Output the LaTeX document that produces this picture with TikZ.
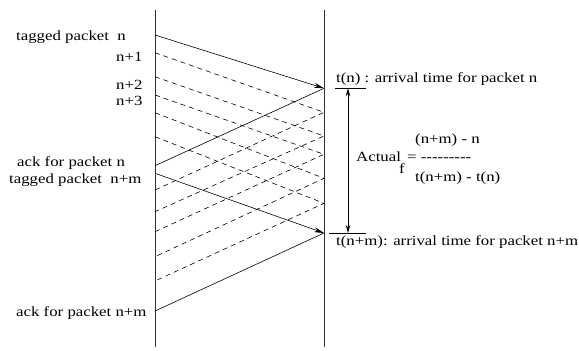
\documentclass[tikz,border=0pt]{standalone}
\usepackage{fontspec}
\setmainfont[FakeStretch=1.2]{Liberation Serif}
\usetikzlibrary{arrows.meta}
\begin{document}
\begin{tikzpicture}[x=1pt,y=-1pt,
  lifeline/.style={line width=0.8pt,black!80},
  msg/.style={line width=0.6pt},
  msgarrow/.style={msg,-{Stealth[length=10pt,width=5pt]}},
  dashmsg/.style={line width=0.6pt,dash pattern=on 5pt off 4pt},
  lbl/.style={anchor=base west,inner sep=0pt,font=\fontsize{14}{16}\selectfont},
  tickline/.style={line width=0.6pt},
  spanarrow/.style={line width=0.8pt,{Stealth[length=8pt,width=4.5pt]}-{Stealth[length=8pt,width=4.5pt]}}]
\useasboundingbox (0,0) rectangle (579,351);
% lifelines
\coordinate (LT) at (155,10); \coordinate (LB) at (155,347);
\coordinate (RT) at (324,10); \coordinate (RB) at (324,347);
\draw[lifeline] (LT) -- (LB);
\draw[lifeline] (RT) -- (RB);
% left points
\coordinate (S0) at (155,35);
\coordinate (D1) at (155,52.7);
\coordinate (D2) at (155,76.7);
\coordinate (D3) at (155,95);
\coordinate (D4) at (155,112.7);
\coordinate (D5) at (155,136.7);
\coordinate (AN) at (155,165.7);
\coordinate (S1) at (155,173.3);
\coordinate (U1) at (155,190);
\coordinate (U2) at (155,211.7);
\coordinate (U3) at (155,231.7);
\coordinate (U4) at (155,256.7);
\coordinate (U5) at (155,281);
\coordinate (AM) at (155,311);
% right points
\coordinate (R0) at (324,88.3);
\coordinate (R1) at (324,112.3);
\coordinate (R2) at (324,136);
\coordinate (R3) at (324,154.3);
\coordinate (R4) at (324,178.3);
\coordinate (R5) at (324,203.3);
\coordinate (RM) at (324,233);
% solid messages
\draw[msgarrow] (S0) -- (R0);
\draw[msg] (R0) -- (AN);
\draw[msgarrow] (S1) -- (RM);
\draw[msg] (RM) -- (AM);
% dashed messages
\draw[dashmsg] (D1) -- (R1) -- (U1);
\draw[dashmsg] (D2) -- (R2) -- (U2);
\draw[dashmsg] (D3) -- (R3) -- (U3);
\draw[dashmsg] (D4) -- (R4) -- (U4);
\draw[dashmsg] (D5) -- (R5) -- (U5);
% right side ticks and span
\coordinate (TA1) at (335,88.3); \coordinate (TA2) at (366,88.3);
\coordinate (TB1) at (329,233); \coordinate (TB2) at (366,233);
\draw[tickline] (TA1) -- (TA2);
\draw[tickline] (TB1) -- (TB2);
\coordinate (SP1) at (348,88.3); \coordinate (SP2) at (348,233);
\draw[spanarrow] (SP1) -- (SP2);
% left labels
\node[lbl] (l0) at (16,40) {tagged packet\ \ n};
\node[lbl] (l1) at (116,61) {n+1};
\node[lbl] (l2) at (116,89) {n+2};
\node[lbl] (l3) at (116,105) {n+3};
\node[lbl] (l4) at (17,166.7) {ack for packet n};
\node[lbl] (l5) at (9,183.3) {tagged packet\ \ n+m};
\node[lbl] (l6) at (16,316.7) {ack for packet n+m};
% right labels
\node[lbl] (r0) at (336,82) {t(n) : arrival time for packet n};
\node[lbl] (r1) at (336,245) {t(n+m): arrival time for packet n+m};
\node[lbl] (f1) at (415,143) {(n+m) - n};
\node[lbl] (f2) at (356,161.5) {Actual};
\node[lbl] (f3) at (399,173.5) {f};
\node[lbl] (f4) at (407,161.5) {= -{}-{}-{}-{}-{}-{}-{}-{}-};
\node[lbl] (f5) at (415,181) {t(n+m) - t(n)};
\end{tikzpicture}
\end{document}
